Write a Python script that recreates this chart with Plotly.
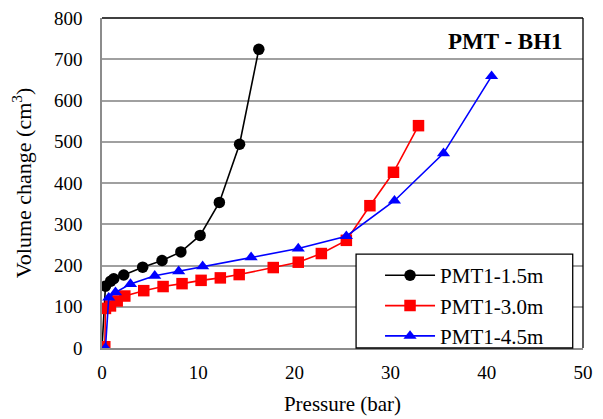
import plotly.graph_objects as go

# Pressuremeter test results, borehole BH1
p_15 = [0, 0.36, 0.9, 1.22, 2.26, 4.23, 6.24, 8.2, 10.2, 12.2, 14.3, 16.3]
v_15 = [0, 150, 162, 168, 177, 196, 212, 233, 273, 353, 494, 724]

p_30 = [0.29, 0.36, 0.88, 1.58, 2.37, 4.34, 6.35, 8.32, 10.3, 12.3, 14.26,
        17.8, 20.4, 22.8, 25.4, 27.85, 30.3, 32.9]
v_30 = [3, 96, 102, 114, 126, 139, 149, 156, 164, 170, 178,
        195, 208, 229, 261, 345, 426, 539]

p_45 = [0.36, 0.7, 1.4, 2.96, 5.48, 7.97, 10.46, 15.5, 20.4, 25.4, 30.4, 35.5, 40.5]
v_45 = [0, 122, 135, 155, 175, 186, 198, 220, 241, 271, 357, 472, 659]

x_ticks = [0, 10, 20, 30, 40, 50]
y_ticks = [0, 100, 200, 300, 400, 500, 600, 700, 800]

FONT = "Times New Roman, Liberation Serif, serif"

fig = go.Figure()
series = [
    ("PMT1-1.5m", p_15, v_15, "#000000", "circle"),
    ("PMT1-3.0m", p_30, v_30, "#ff0000", "square"),
    ("PMT1-4.5m", p_45, v_45, "#0000ff", "triangle-up"),
]
for name, xs, ys, col, sym in series:
    fig.add_trace(go.Scatter(
        x=xs, y=ys, name=name, mode="lines+markers",
        line=dict(color=col, width=1.6),
        marker=dict(color=col, symbol=sym, size=11.5, line=dict(width=0)),
    ))

# legend frame (white box with black border)
fig.add_shape(type="rect", xref="paper", yref="paper",
              x0=(356 - 101.5) / 481.8, x1=(573 - 101.5) / 481.8,
              y0=0, y1=(348 - 254) / 330.5,
              line=dict(color="#000000", width=1.3), fillcolor="white",
              layer="above")
# top and right plot-area border
fig.add_shape(type="line", xref="paper", yref="paper", x0=0, x1=1, y0=1, y1=1,
              line=dict(color="#000000", width=1.3), layer="above")
fig.add_shape(type="line", xref="paper", yref="paper", x0=1, x1=1, y0=0, y1=1,
              line=dict(color="#000000", width=1.3), layer="above")

fig.add_annotation(text="<b>PMT - BH1</b>", xref="paper", yref="paper",
                   x=0.963, y=0.93, xanchor="right", yanchor="middle",
                   showarrow=False, font=dict(family=FONT, size=23, color="black"))

fig.update_layout(
    width=603, height=419,
    margin=dict(l=101.5, r=19.7, t=17.5, b=71),
    paper_bgcolor="white", plot_bgcolor="white",
    font=dict(family=FONT, size=18, color="black"),
    showlegend=True,
    legend=dict(x=(380 - 101.5) / 481.8, y=(348 - 255) / 330.5,
                xanchor="left", yanchor="top",
                bgcolor="rgba(0,0,0,0)", borderwidth=0,
                font=dict(family=FONT, size=21, color="black"),
                itemwidth=50, tracegroupgap=0),
    xaxis=dict(range=[0, 50], tickvals=x_ticks, showgrid=False,
               showline=True, linecolor="#8c8c8c", linewidth=1.5,
               ticks="", zeroline=False, ticklabelstandoff=6, automargin=False,
               tickfont=dict(family=FONT, size=19, color="black"),
               title=dict(text="Pressure (bar)",
                          font=dict(family=FONT, size=21, color="black"),
                          standoff=15)),
    yaxis=dict(range=[0, 800], tickvals=y_ticks, showgrid=True,
               gridcolor="#a0a0a0", gridwidth=1.5,
               showline=True, linecolor="#8c8c8c", linewidth=1.5,
               ticks="", zeroline=False, ticklabelstandoff=14, automargin=False,
               tickfont=dict(family=FONT, size=19, color="black"),
               title=dict(text="Volume change (cm<sup>3</sup>)",
                          font=dict(family=FONT, size=22, color="black"),
                          standoff=16)),
)

fig.write_html("out.html")
